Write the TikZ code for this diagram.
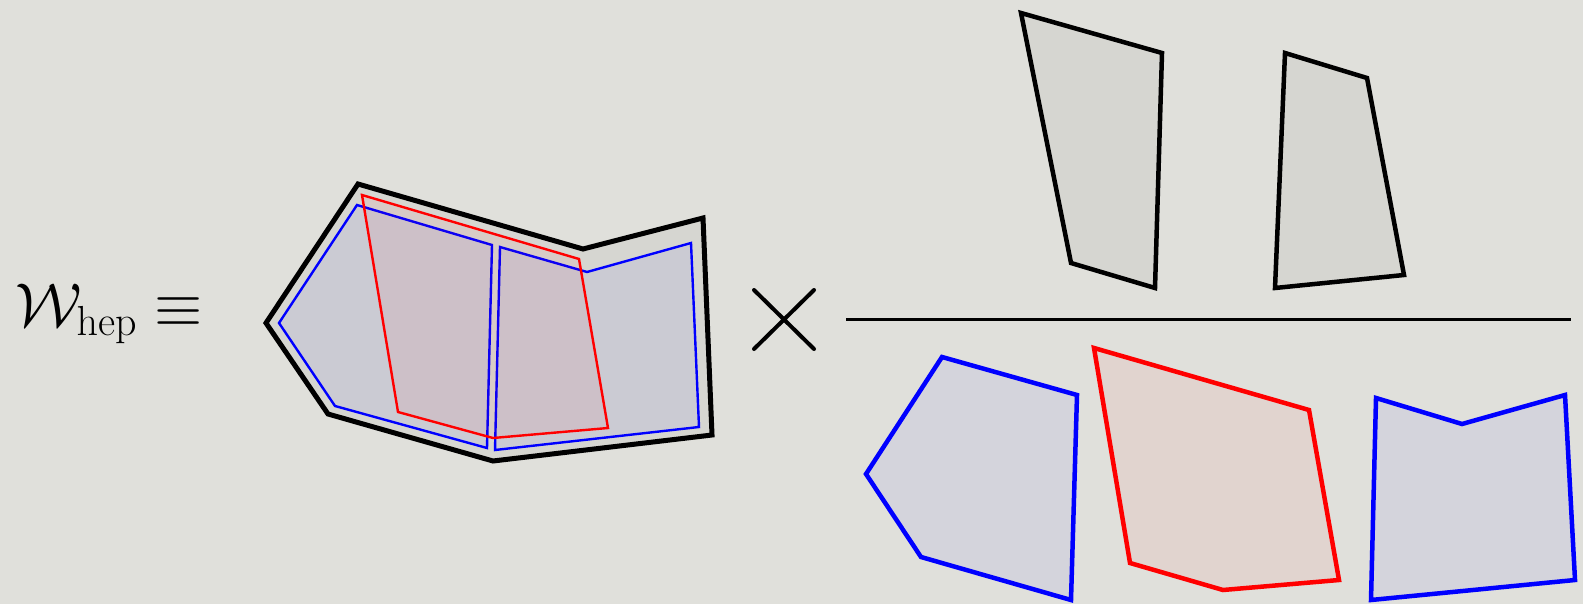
\RequirePackage{fix-cm}
\documentclass[tikz,border=0pt]{standalone}
\usepackage{tikz}

\definecolor{paper}{RGB}{224,224,219}
\DeclareMathSizes{31}{31}{21}{15}

\begin{document}
\begin{tikzpicture}[
    x=0.5pt, y=-0.5pt,
    font=\fontsize{31}{36}\selectfont,
    blk/.style={draw=black, line width=2.25pt, fill=black, fill opacity=0.045},
    bluepc/.style={draw=blue, line width=2.25pt, fill=blue, fill opacity=0.05},
    redpc/.style={draw=red, line width=2.25pt, fill=red, fill opacity=0.05},
    inner/.style={line width=1.2pt}
]

% ---- Background ----
\fill[paper] (0,0) rectangle (1583,604);
\useasboundingbox (0,0) rectangle (1583,604);

% ---- Left hand side ----
\node[anchor=base west, inner sep=0pt] (lhs) at (15,326) {$\mathcal{W}_{\mathrm{hep}}\equiv$};

% ---- Glued polytope ----
\draw[blk, line width=2.5pt] (358,184) -- (583,249) -- (703,218) -- (712,435)
    -- (493,461) -- (328,414) -- (266,323) -- cycle;
\draw[bluepc, inner] (357,205) -- (492,245) -- (487,448) -- (335,406) -- (279,323) -- cycle;
\draw[bluepc, inner] (500,247) -- (587,272) -- (691,243) -- (699,427) -- (495,450) -- cycle;
\draw[redpc, inner] (362,195) -- (579,259) -- (608,428) -- (493,438) -- (398,412) -- cycle;

% ---- Times ----
\coordinate (tnw) at (754,290);
\coordinate (tse) at (814,349);
\coordinate (tne) at (814,290);
\coordinate (tsw) at (754,349);
\draw[line width=2pt, line cap=round] (tnw) -- (tse) (tne) -- (tsw);

% ---- Numerator ----
\draw[blk] (1021,13) -- (1162,53) -- (1155,288) -- (1071,263) -- cycle;
\draw[blk] (1285,53) -- (1367,78) -- (1404,275) -- (1275,288) -- cycle;

% ---- Fraction bar ----
\coordinate (barl) at (846,319);
\coordinate (barr) at (1571,319);
\draw[line width=1.5pt] (barl) -- (barr);

% ---- Denominator ----
\draw[bluepc] (942,357) -- (1077,395) -- (1071,600) -- (921,557) -- (866,474) -- cycle;
\draw[redpc] (1094,348) -- (1309,410) -- (1339,580) -- (1223,590) -- (1130,563) -- cycle;
\draw[bluepc] (1376,398) -- (1462,424) -- (1565,395) -- (1575,580) -- (1371,600) -- cycle;

\end{tikzpicture}
\end{document}
